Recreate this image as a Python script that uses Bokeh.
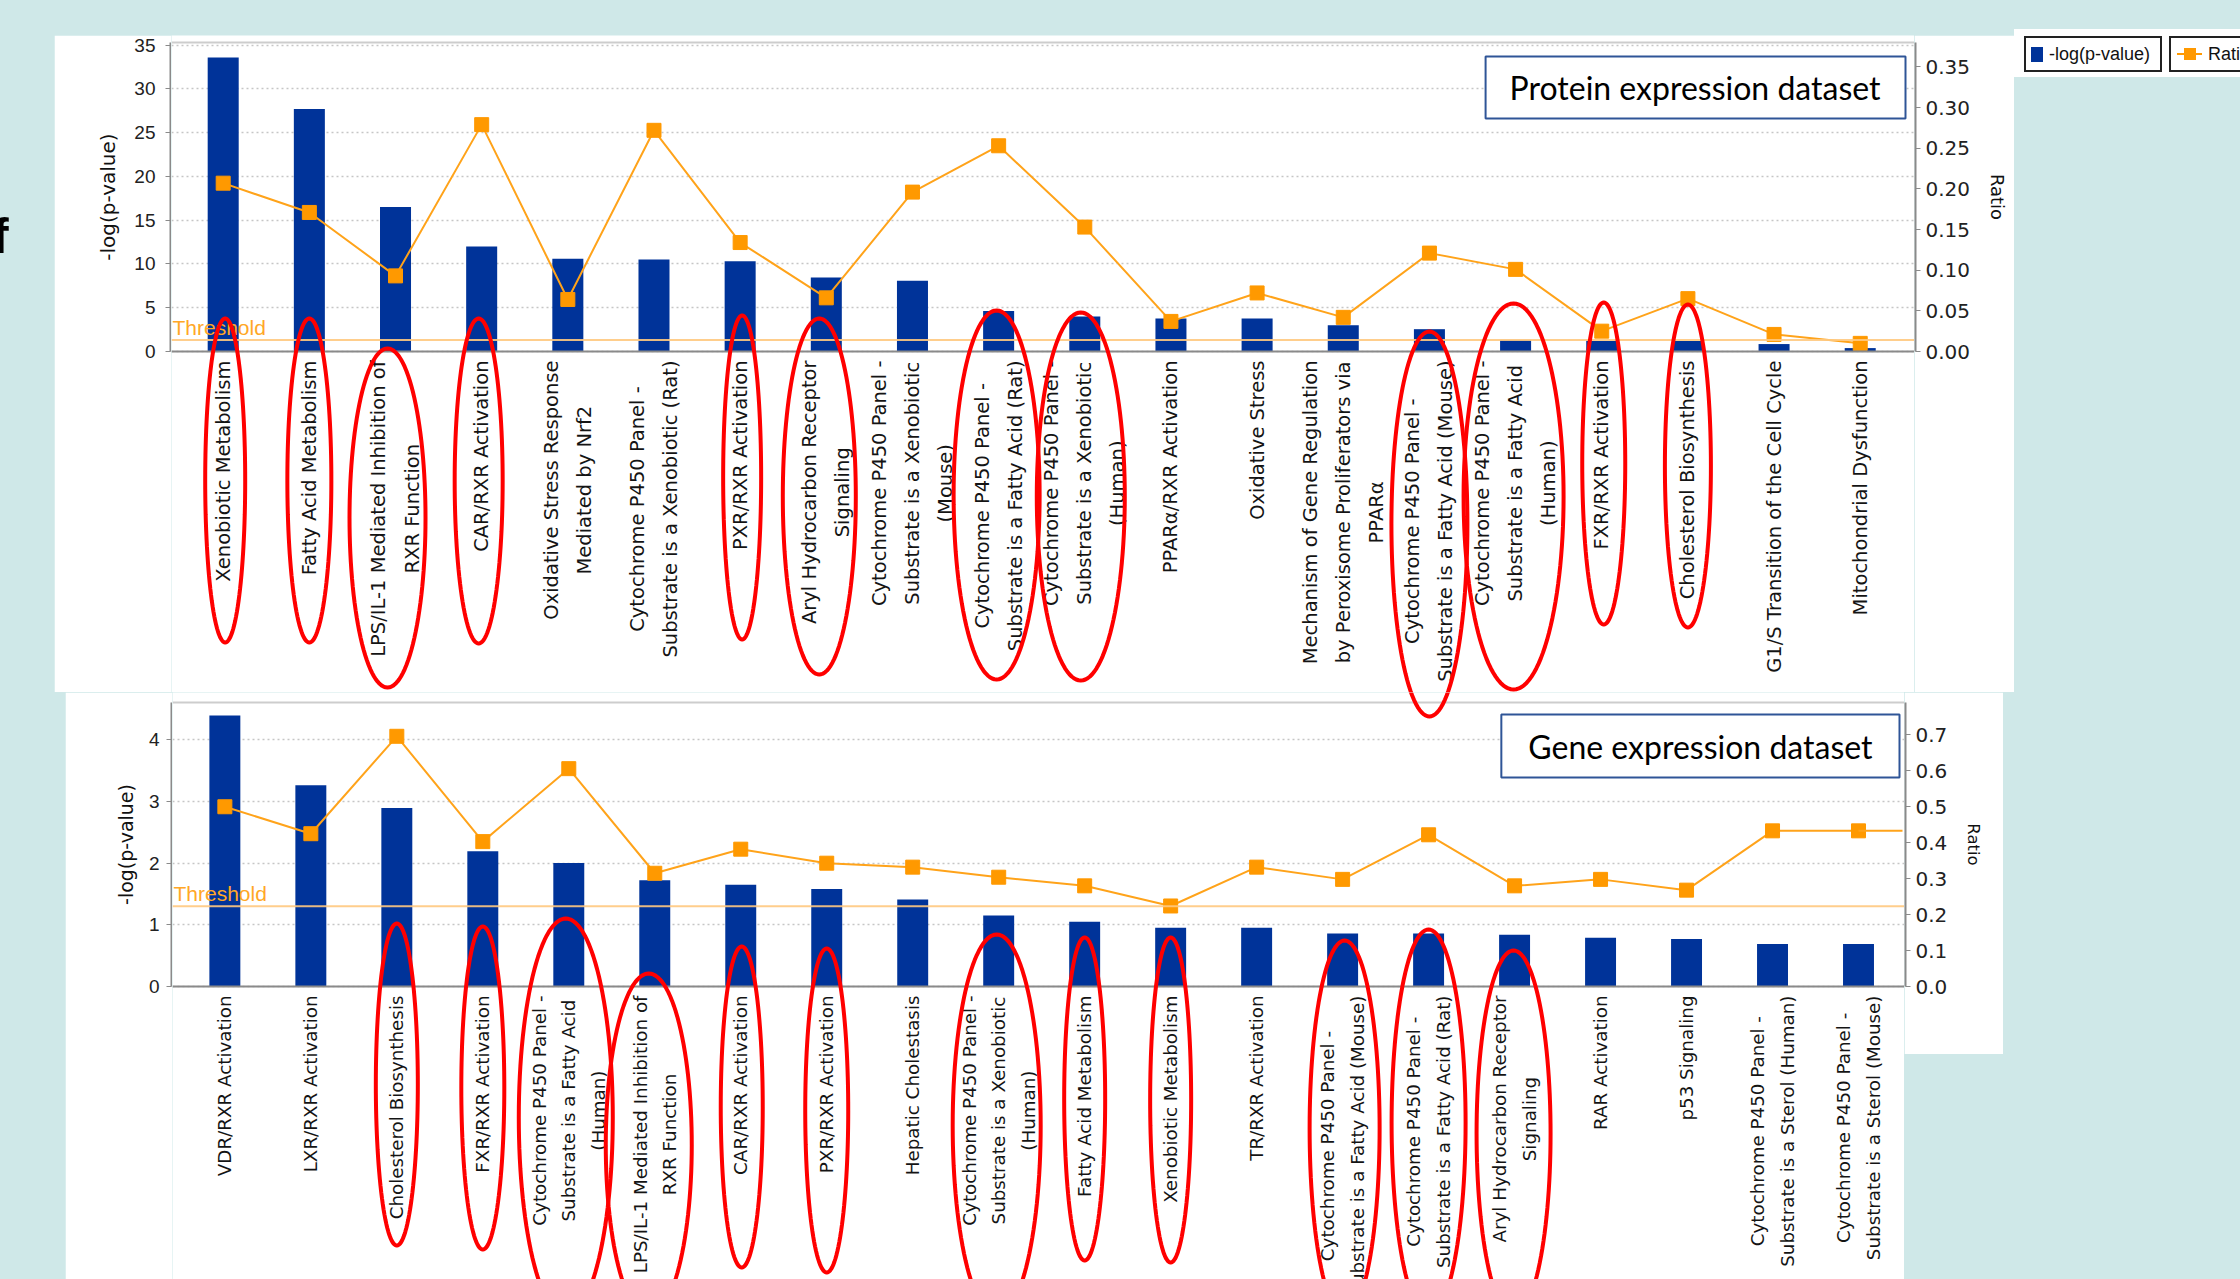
import numpy as np
from bokeh.plotting import figure
from bokeh.layouts import row, column
from bokeh.models import (Range1d, SingleIntervalTicker, NumeralTickFormatter, Grid,
                          Span, Label, PolyAnnotation, Div, Spacer)
from bokeh.embed import file_html
from bokeh.resources import INLINE

# ---------------------------------------------------------------- data
protein_pathways = [
    "Xenobiotic Metabolism",
    "Fatty Acid Metabolism",
    "LPS/IL-1 Mediated Inhibition of\nRXR Function",
    "CAR/RXR Activation",
    "Oxidative Stress Response\nMediated by Nrf2",
    "Cytochrome P450 Panel -\nSubstrate is a Xenobiotic (Rat)",
    "PXR/RXR Activation",
    "Aryl Hydrocarbon Receptor\nSignaling",
    "Cytochrome P450 Panel -\nSubstrate is a Xenobiotic\n(Mouse)",
    "Cytochrome P450 Panel -\nSubstrate is a Fatty Acid (Rat)",
    "Cytochrome P450 Panel -\nSubstrate is a Xenobiotic\n(Human)",
    "PPAR\u03b1/RXR Activation",
    "Oxidative Stress",
    "Mechanism of Gene Regulation\nby Peroxisome Proliferators via\nPPAR\u03b1",
    "Cytochrome P450 Panel -\nSubstrate is a Fatty Acid (Mouse)",
    "Cytochrome P450 Panel -\nSubstrate is a Fatty Acid\n(Human)",
    "FXR/RXR Activation",
    "Cholesterol Biosynthesis",
    "G1/S Transition of the Cell Cycle",
    "Mitochondrial Dysfunction",
]
protein_neglogp = [33.6, 27.7, 16.5, 12.0, 10.6, 10.5, 10.3, 8.45, 8.07, 4.64,
                   4.0, 3.77, 3.77, 3.0, 2.55, 1.33, 1.22, 1.2, 0.85, 0.39]
protein_ratio = [0.207, 0.171, 0.093, 0.279, 0.064, 0.272, 0.134, 0.066, 0.196, 0.253,
                 0.153, 0.037, 0.072, 0.042, 0.121, 0.101, 0.025, 0.065, 0.021, 0.010]

gene_pathways = [
    "VDR/RXR Activation",
    "LXR/RXR Activation",
    "Cholesterol Biosynthesis",
    "FXR/RXR Activation",
    "Cytochrome P450 Panel -\nSubstrate is a Fatty Acid\n(Human)",
    "LPS/IL-1 Mediated Inhibition of\nRXR Function",
    "CAR/RXR Activation",
    "PXR/RXR Activation",
    "Hepatic Cholestasis",
    "Cytochrome P450 Panel -\nSubstrate is a Xenobiotic\n(Human)",
    "Fatty Acid Metabolism",
    "Xenobiotic Metabolism",
    "TR/RXR Activation",
    "Cytochrome P450 Panel -\nSubstrate is a Fatty Acid (Mouse)",
    "Cytochrome P450 Panel -\nSubstrate is a Fatty Acid (Rat)",
    "Aryl Hydrocarbon Receptor\nSignaling",
    "RAR Activation",
    "p53 Signaling",
    "Cytochrome P450 Panel -\nSubstrate is a Sterol (Human)",
    "Cytochrome P450 Panel -\nSubstrate is a Sterol (Mouse)",
]
gene_neglogp = [4.39, 3.26, 2.89, 2.19, 2.0, 1.72, 1.65, 1.58, 1.41, 1.15,
                1.05, 0.95, 0.95, 0.86, 0.86, 0.84, 0.79, 0.77, 0.69, 0.69]
gene_ratio = [0.50, 0.425, 0.696, 0.403, 0.606, 0.315, 0.382, 0.343, 0.332, 0.304,
              0.28, 0.224, 0.332, 0.298, 0.422, 0.28, 0.298, 0.268, 0.433, 0.433]

threshold = 1.3  # -log(0.05)

# pathways circled in red (index into each list)
protein_circled = [0, 1, 2, 3, 6, 7, 9, 10, 14, 15, 16, 17]
gene_circled = [2, 3, 4, 5, 6, 7, 9, 10, 11, 13, 14, 15]

# ---------------------------------------------------------------- styling
BG = "#cfe8e8"
BAR = "#003399"
MARK = "#ff9900"
LINE = "#ffa31a"
THRESH = "#ffc980"
AXIS = "#8a8a8a"

# Panel placement on the page (px).  Each plot frame runs the full height of its
# panel, so the rotated pathway names and the rings below the baseline stay visible;
# the value axes sit in narrow strips beside the frame.
TOP = dict(page_x=54, page_y=35, w=1960, h=657, frame_l=171, frame_r=1914,
           plot_top=42, axis_y=351, xr=(-0.6, 19.63), ymax=35.3, rmax=0.38,
           right_w=100)
BOT = dict(page_x=65, page_y=692, w=1938, h=587, frame_l=172, frame_r=1904,
           plot_top=702, axis_y=986, xr=(-0.609, 19.535), ymax=4.6, rmax=0.79,
           right_w=99, right_h=362)

# hand-drawn highlight rings: index -> (rise above axis, depth below axis, width, x shift) px
TOP_RINGS = {0: (33, 291, 40, 2), 1: (33, 291, 44, 0), 2: (3, 336, 76, -8),
             3: (33, 292, 48, -3), 6: (36, 288, 38, 2), 7: (33, 323, 73, -7),
             9: (41, 328, 86, -2), 10: (39, 329, 88, -4), 14: (20, 365, 76, 0),
             15: (48, 338, 100, -2), 16: (49, 273, 43, 2), 17: (47, 276, 46, 0)}
BOT_RINGS = {2: (63, 259, 42, 0), 3: (60, 263, 43, 0), 4: (68, 330, 94, -3),
             5: (13, 330, 86, -6), 6: (40, 281, 42, 1), 7: (38, 286, 43, 0),
             9: (52, 330, 88, -2), 10: (49, 274, 41, 0), 11: (49, 276, 41, 0),
             13: (46, 330, 70, 2), 14: (57, 330, 74, 0), 15: (36, 330, 74, -1)}


def y_scale(g):
    return (g["axis_y"] - g["plot_top"]) / g["ymax"]


def x_scale(g):
    x0, x1 = g["xr"]
    return (g["frame_r"] - g["frame_l"]) / (x1 - x0)


def y_limits(g, top_value):
    k = (g["axis_y"] - g["plot_top"]) / top_value
    lo = -(g["page_y"] + g["h"] - g["axis_y"]) / k
    hi = top_value + (g["plot_top"] - g["page_y"]) / k
    return lo, hi


def to_page(g, xd, yd):
    return (g["frame_l"] + (xd - g["xr"][0]) * x_scale(g),
            g["axis_y"] - yd * y_scale(g))


def to_data(g, px, py):
    return (g["xr"][0] + (px - g["frame_l"]) / x_scale(g),
            (g["axis_y"] - py) / y_scale(g))


def ring_page(g, idx, rise, depth, width, dx):
    cx, axis_y = to_page(g, idx, 0.0)
    cx += dx
    cy = axis_y + (depth - rise) / 2.0
    ry = (depth + rise) / 2.0
    rx = width / 2.0
    t = np.linspace(0, 2 * np.pi, 121)
    return cx + rx * np.cos(t), cy + ry * np.sin(t)


def axis_strip(g, side, top_value, step, fmt, label, label_size, tick_font, tick_size,
               standoff, label_standoff, height=None):
    """A narrow figure that only carries one value axis, aligned with the plot."""
    h = height if height is not None else g["h"]
    w = (g["frame_l"] - g["page_x"]) if side == "left" else g["right_w"]
    mb_top = int(round(g["plot_top"] - g["page_y"]))
    mb_bottom = int(round(g["page_y"] + h - g["axis_y"]))
    s = figure(width=w, height=h, output_backend="svg", toolbar_location=None,
               x_axis_location=None, y_axis_location=side,
               x_range=Range1d(0, 1), y_range=Range1d(0, top_value),
               min_border_left=(w - 1 if side == "left" else 0),
               min_border_right=(0 if side == "left" else w - 1),
               min_border_top=mb_top, min_border_bottom=mb_bottom,
               background_fill_color="white", border_fill_color="white",
               outline_line_color=None)
    s.grid.visible = False
    ax = s.yaxis[0]
    ax.ticker = SingleIntervalTicker(interval=step, num_minor_ticks=0)
    if fmt:
        ax.formatter = NumeralTickFormatter(format=fmt)
    ax.axis_label = label
    ax.axis_label_text_font = "DejaVu Sans"
    ax.axis_label_text_font_size = label_size
    ax.axis_label_text_font_style = "normal"
    ax.axis_label_text_color = "#111111"
    ax.axis_label_standoff = label_standoff
    ax.major_label_text_font = tick_font
    ax.major_label_text_font_size = tick_size
    ax.major_label_text_color = "#222222"
    ax.major_label_standoff = standoff
    ax.axis_line_color = AXIS
    ax.axis_line_width = 2
    ax.major_tick_line_color = AXIS
    ax.major_tick_out = 5
    ax.major_tick_in = 0
    ax.minor_tick_line_color = None
    return s


def build_chart(g, cats, vals, ratios, *, y_step, cat_size, cat_lh, title, title_pad,
                title_dx, title_dy):
    x0, x1 = g["xr"]
    ylo, yhi = y_limits(g, g["ymax"])
    rlo, rhi = y_limits(g, g["rmax"])
    p = figure(width=g["frame_r"] - g["frame_l"], height=g["h"], output_backend="svg",
               toolbar_location=None, x_range=Range1d(x0, x1), y_range=Range1d(ylo, yhi),
               x_axis_location=None, y_axis_location=None,
               min_border_left=0, min_border_right=0, min_border_top=0, min_border_bottom=0,
               background_fill_color="white", border_fill_color="white",
               outline_line_color=None)
    for gr in p.grid:
        gr.visible = False
    p.extra_y_ranges = {"ratio": Range1d(rlo, rhi)}
    p.add_layout(Grid(dimension=1, ticker=SingleIntervalTicker(interval=y_step),
                      bounds=(0, g["ymax"]), grid_line_color="#c6c6c6",
                      grid_line_dash="2 3", grid_line_width=1.5))

    # plot-area top edge and baseline
    p.add_layout(Span(location=g["ymax"], dimension="width", line_color="#cdcdcd",
                      line_width=2))
    p.add_layout(Span(location=0, dimension="width", line_color=AXIS, line_width=2))

    xs = list(range(len(cats)))
    p.vbar(x=xs, top=vals, width=0.36, fill_color=BAR, line_color=None)

    p.add_layout(Span(location=threshold, dimension="width", line_color=THRESH,
                      line_width=2, line_alpha=0.9))
    p.add_layout(Label(x=x0, y=threshold, x_offset=1, y_offset=1, text="Threshold",
                       text_font="Liberation Sans", text_font_size="21px",
                       text_color="#ffa726", text_align="left", text_baseline="bottom"))

    p.line(xs, ratios, y_range_name="ratio", line_color=LINE, line_width=2)
    p.scatter(xs, ratios, y_range_name="ratio", marker="square", size=14,
              fill_color=MARK, line_color=MARK)

    # pathway names, rotated under each bar
    for i, name in enumerate(cats):
        p.add_layout(Label(x=i, y=0, y_offset=-9, text=name, angle=np.pi / 2,
                           anchor="center_right", text_align="center",
                           text_font="DejaVu Sans", text_font_size=cat_size,
                           text_line_height=cat_lh, text_color="#141414"))

    p.add_layout(Label(x=x1, y=g["ymax"], x_offset=title_dx, y_offset=title_dy,
                       anchor="top_right", text=title, text_font="Lato",
                       text_font_size="32px", text_color="#000000",
                       background_fill_color="white", border_line_color="#2f5597",
                       border_line_width=2, padding=title_pad))
    return p


fig_top = build_chart(TOP, protein_pathways, protein_neglogp, protein_ratio,
                      y_step=5, cat_size="19.5px", cat_lh=1.44,
                      title="Protein expression dataset", title_pad=(24, 25, 11, 12),
                      title_dx=-9, title_dy=-14)
fig_bot = build_chart(BOT, gene_pathways, gene_neglogp, gene_ratio,
                      y_step=1, cat_size="18.3px", cat_lh=1.4,
                      title="Gene expression dataset", title_pad=(27, 27, 12, 12),
                      title_dx=-5, title_dy=-12)

# the ratio trace of the gene panel runs on to the right edge of the plot
fig_bot.line([len(gene_ratio) - 1, BOT["xr"][1] - 2 / x_scale(BOT)],
             [gene_ratio[-1], gene_ratio[-1]],
             y_range_name="ratio", line_color=LINE, line_width=2)

top_left = axis_strip(TOP, "left", TOP["ymax"], 5, None, "-log(p-value)", "20px",
                      "Liberation Sans", "19px", 10, 11)
top_right = axis_strip(TOP, "right", TOP["rmax"], 0.05, "0.00", "Ratio", "18px",
                       "DejaVu Sans", "20px", 5, 14)
bot_left = axis_strip(BOT, "left", BOT["ymax"], 1, None, "-log(p-value)", "19px",
                      "Liberation Sans", "19px", 7, 9)
bot_right = axis_strip(BOT, "right", BOT["rmax"], 0.1, "0.0", "Ratio", "16.5px",
                       "DejaVu Sans", "20px", 5, 14, height=BOT["right_h"])

# red rings, drawn in page space so they may cross from one panel into the next
rings = [ring_page(TOP, i, *TOP_RINGS[i]) for i in protein_circled]
rings += [ring_page(BOT, i, *BOT_RINGS[i]) for i in gene_circled]
for g, p in ((TOP, fig_top), (BOT, fig_bot)):
    lo, hi = g["page_y"], g["page_y"] + g["h"]
    for ex, ey in rings:
        if ey.max() < lo or ey.min() > hi:
            continue
        xd, yd = to_data(g, ex, ey)
        p.add_layout(PolyAnnotation(xs=[float(v) for v in xd], ys=[float(v) for v in yd],
                                    fill_alpha=0, line_color="#ff0000", line_alpha=1.0,
                                    line_width=4))

f_div = Div(width=54, height=692, margin=0, text=(
    '<div style="position:relative;width:54px;height:692px;overflow:hidden;">'
    '<div style="position:absolute;left:-8px;top:211px;font-family:\'Liberation Sans\';'
    'font-weight:bold;font-size:50px;line-height:50px;color:#000;">f</div></div>'))

legend_div = Div(width=226, height=48, margin=0, text=(
    '<div style="position:relative;width:226px;height:48px;background:#fff;overflow:hidden;'
    'font-family:\'Liberation Sans\';font-size:18px;color:#111;">'
    '<div style="position:absolute;left:10px;top:7px;width:138px;height:36px;'
    'border:2px solid #222;box-sizing:border-box;"></div>'
    '<div style="position:absolute;left:17px;top:18px;width:12px;height:15px;background:#003399;"></div>'
    '<div style="position:absolute;left:35px;top:13px;line-height:24px;white-space:nowrap;">-log(p-value)</div>'
    '<div style="position:absolute;left:155px;top:7px;width:120px;height:36px;'
    'border:2px solid #222;box-sizing:border-box;"></div>'
    '<div style="position:absolute;left:163px;top:24px;width:25px;height:2px;background:#ff9900;"></div>'
    '<div style="position:absolute;left:170px;top:19px;width:12px;height:12px;background:#ff9900;"></div>'
    '<div style="position:absolute;left:194px;top:13px;line-height:24px;white-space:nowrap;">Ratio</div>'
    '</div>'))

# each figure sits in its own column so neighbouring frames are not aligned to each other
top_panel = row(column(top_left, spacing=0), column(fig_top, spacing=0),
                column(top_right, spacing=0), spacing=0)
top_row = row(f_div,
              column(Spacer(width=TOP["w"], height=TOP["page_y"]), top_panel, spacing=0),
              column(Spacer(width=226, height=29), legend_div, spacing=0),
              spacing=0)
bottom_row = row(Spacer(width=BOT["page_x"], height=BOT["h"]),
                 column(bot_left, spacing=0), column(fig_bot, spacing=0),
                 column(bot_right, Spacer(width=BOT["right_w"], height=BOT["h"] - BOT["right_h"]),
                        spacing=0),
                 spacing=0)
page = column(top_row, bottom_row, spacing=0, width=2240, height=1279,
              styles={"background-color": BG})

open("out.html", "w").write(file_html(page, INLINE))
